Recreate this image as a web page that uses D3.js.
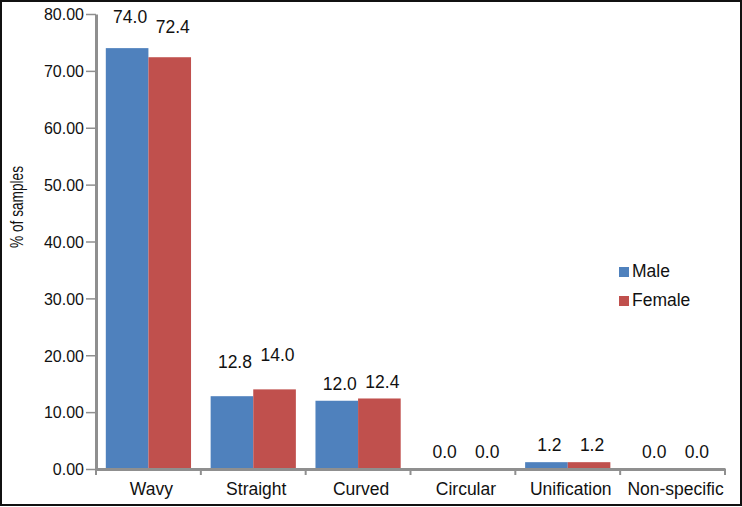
<!DOCTYPE html>
<html>
<head>
<meta charset="utf-8">
<script src="https://cdn.jsdelivr.net/npm/d3@7"></script>
<style>
  html, body { margin: 0; padding: 0; background: #fff; }
  svg { display: block; font-family: "Liberation Sans", Arial, sans-serif; }
</style>
</head>
<body>
<svg id="chart" width="742" height="507"></svg>
<script>
// ---- data ----
const categories = ["Wavy", "Straight", "Curved", "Circular", "Unification", "Non-specific"];
const seriesNames = ["Male", "Female"];
const maleValues = [74.0, 12.8, 12.0, 0.0, 1.2, 0.0];
const femaleValues = [72.4, 14.0, 12.4, 0.0, 1.2, 0.0];
const yTicks = [0, 10, 20, 30, 40, 50, 60, 70, 80];
const yTitle = "% of samples";

// ---- style ----
const colors = { Male: "#4F81BD", Female: "#C0504D" };
const axisColor = "#8f8f8f";
const labelLift = { Wavy: 14, Straight: 18 }; // extra manual lift of data labels (px)
const FONT = "Liberation Sans, Arial, sans-serif";

const svg = d3.select("#chart");
const W = 742, H = 507;

svg.append("rect").attr("x", 1).attr("y", 1).attr("width", W - 2).attr("height", H - 3)
  .attr("fill", "#fff").attr("stroke", "#111").attr("stroke-width", 2);

const x = d3.scaleBand().domain(categories).range([96, 725]).padding(0);
const xs = d3.scaleBand().domain(seriesNames).range([0, x.bandwidth()]).paddingInner(0).paddingOuter(0.23);
const y = d3.scaleLinear().domain([0, 80]).range([469, 14]);

const rows = categories.map((c, i) => ({ cat: c, vals: [
  { s: "Male", v: maleValues[i] }, { s: "Female", v: femaleValues[i] } ] }));

// bars
const g = svg.append("g");
const groups = g.selectAll("g.cat").data(rows).join("g")
  .attr("transform", d => `translate(${x(d.cat)},0)`);
groups.selectAll("rect").data(d => d.vals).join("rect")
  .attr("x", d => xs(d.s))
  .attr("width", xs.bandwidth())
  .attr("y", d => y(d.v))
  .attr("height", d => y(0) - y(d.v))
  .attr("fill", d => colors[d.s]);

// data labels
groups.each(function(row) {
  d3.select(this).selectAll("text.lbl").data(row.vals).join("text")
    .attr("class", "lbl")
    .attr("x", d => xs(d.s) + xs.bandwidth() / 2 + 3)
    .attr("y", d => y(d.v) - 17 - (labelLift[row.cat] || 0))
    .attr("dy", "0.36em")
    .attr("text-anchor", "middle")
    .attr("font-size", 17.5)
    .attr("fill", "#111")
    .text(d => d.v.toFixed(1));
});

// y axis
const yAxis = d3.axisLeft(y).tickValues(yTicks).tickFormat(d => d.toFixed(2)).tickSize(10).tickSizeOuter(0).tickPadding(2);
const ya = svg.append("g").attr("transform", "translate(96,0)").call(yAxis);
ya.select(".domain").attr("stroke", axisColor).attr("stroke-width", 3);
ya.selectAll(".tick line").attr("stroke", axisColor).attr("stroke-width", 1.5);
ya.selectAll(".tick text").attr("font-size", 16).attr("fill", "#111")
  .attr("font-family", FONT).attr("dy", "0.36em");

// x axis
const xAxis = d3.axisBottom(x).tickSize(0).tickSizeOuter(0).tickPadding(0);
const xa = svg.append("g").attr("transform", `translate(0,${y(0)})`).call(xAxis);
xa.select(".domain").attr("stroke", axisColor).attr("stroke-width", 3);
xa.selectAll(".tick text").attr("font-size", 17.5).attr("fill", "#111")
  .attr("font-family", FONT).attr("dx", 3).attr("y", 20).attr("dy", "0.36em");
// boundary tick marks
const bounds = categories.map(c => x(c)).concat([x.range()[1]]);
xa.selectAll("line.bnd").data(bounds).join("line").attr("class", "bnd")
  .attr("x1", d => d).attr("x2", d => d).attr("y1", 0).attr("y2", 6)
  .attr("stroke", axisColor).attr("stroke-width", 2);

// y title
svg.append("text")
  .attr("transform", `translate(17,207) rotate(-90)`)
  .attr("text-anchor", "middle").attr("dy", "0.36em")
  .attr("font-size", 17.5).attr("fill", "#111")
  .attr("textLength", 82).attr("lengthAdjust", "spacingAndGlyphs")
  .text(yTitle);

// legend
const leg = svg.append("g").attr("transform", "translate(619,267)");
const li = leg.selectAll("g").data(seriesNames).join("g")
  .attr("transform", (d, i) => `translate(0,${i * 29})`);
li.append("rect").attr("width", 10).attr("height", 10).attr("fill", d => colors[d]);
li.append("text").attr("x", 13).attr("y", 4).attr("dy", "0.36em")
  .attr("font-size", 17.5).attr("fill", "#111").text(d => d);
</script>
</body>
</html>
